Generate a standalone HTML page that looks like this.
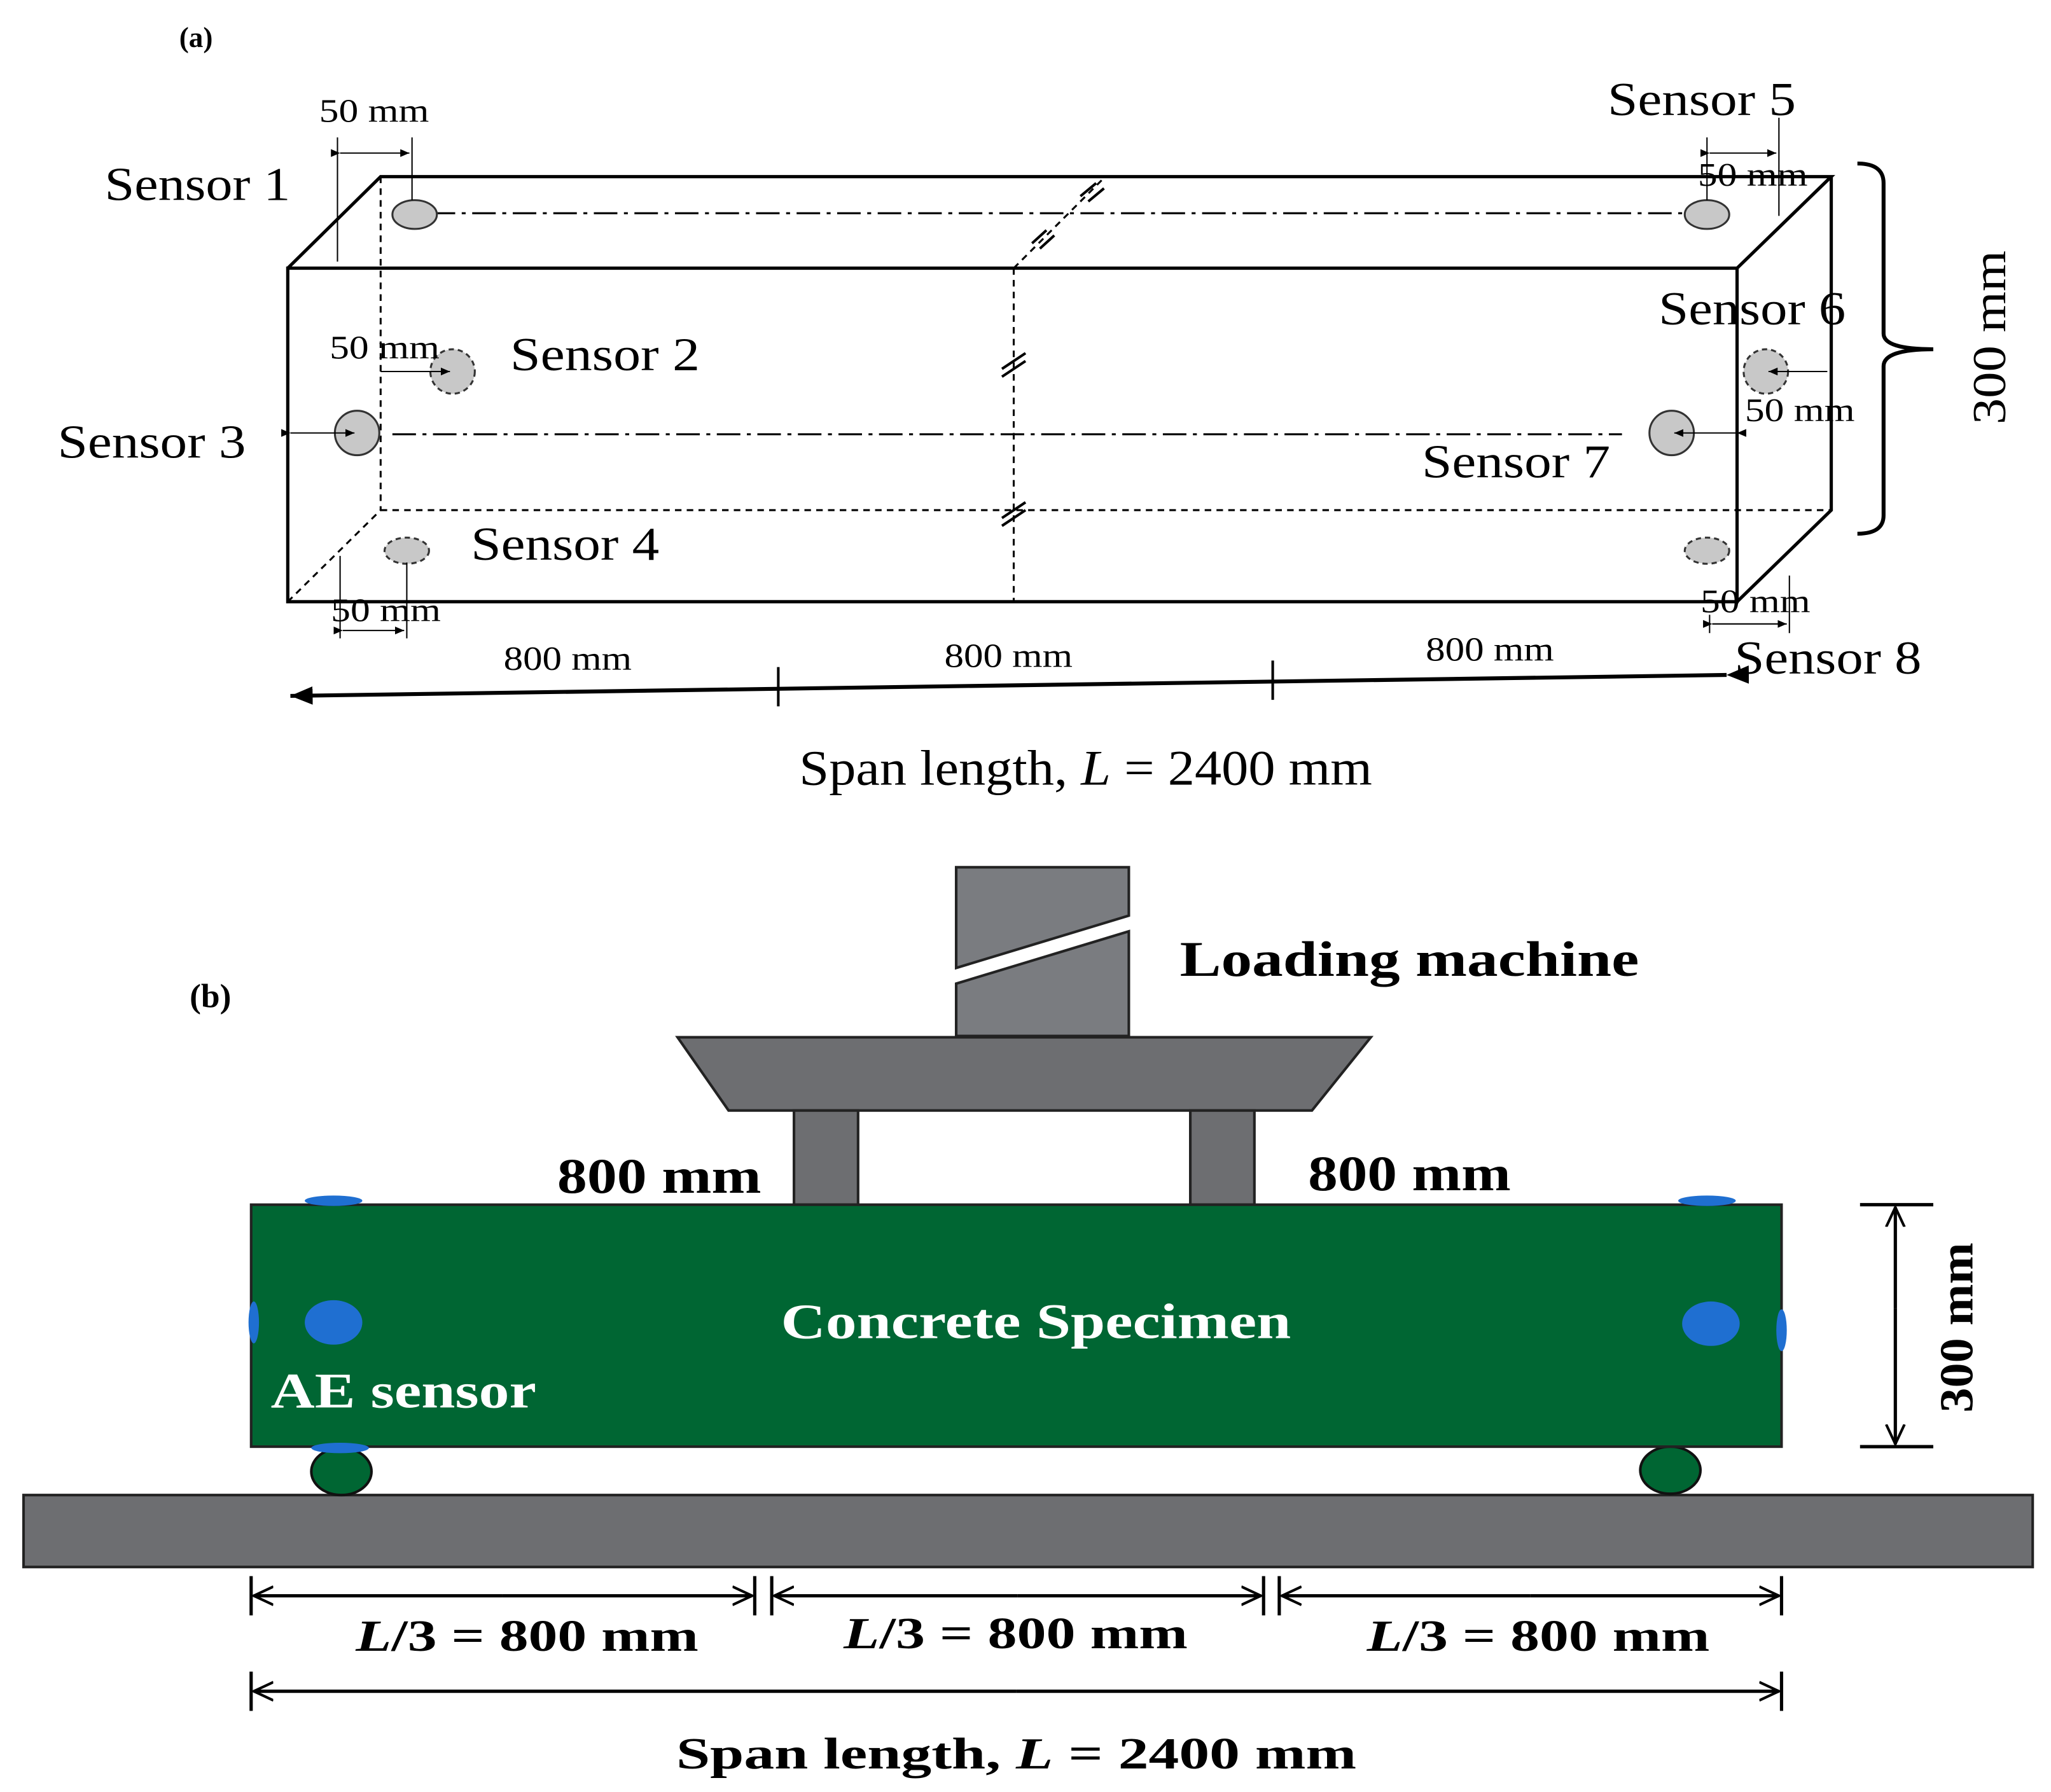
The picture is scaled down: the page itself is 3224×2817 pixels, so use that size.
<!DOCTYPE html>
<html><head><meta charset="utf-8"><style>
html,body{margin:0;padding:0;background:#fff;}
svg{display:block;}
text{font-family:"Liberation Serif",serif;}
</style></head><body>
<svg width="3224" height="2817" viewBox="0 0 1568 1370" xmlns="http://www.w3.org/2000/svg">
<defs>
<marker id="ahs" markerWidth="7" markerHeight="6" refX="7" refY="3" orient="auto" markerUnits="userSpaceOnUse"><path d="M0,0 L7,3 L0,6 Z" fill="#000"/></marker>
<marker id="ahb" markerWidth="18" markerHeight="14" refX="17" refY="7" orient="auto" markerUnits="userSpaceOnUse"><path d="M0,0 L17,7 L0,14 Z" fill="#000"/></marker>
<marker id="ao" markerWidth="16" markerHeight="16" refX="15" refY="8" orient="auto" markerUnits="userSpaceOnUse"><path d="M0,1 L15,8 L0,15" fill="none" stroke="#000" stroke-width="2"/></marker>
</defs>
<!-- Panel a -->
<text x="137" y="36" font-size="22" font-weight="bold">(a)</text>
<g stroke="#000" stroke-width="2.5" fill="none">
<rect x="220" y="205" width="1108" height="255"/>
<polyline points="220,205 291,135 1400,135 1328,205"/>
<polyline points="1400,135 1400,390 1328,460"/>
</g>
<g stroke="#000" stroke-width="1.5" fill="none" stroke-dasharray="5,4">
<line x1="291" y1="135" x2="291" y2="390"/>
<line x1="291" y1="390" x2="1400" y2="390"/>
<line x1="220" y1="460" x2="291" y2="390"/>
<line x1="775" y1="205" x2="775" y2="460"/>
<line x1="775" y1="205" x2="845" y2="135"/>
</g>
<g stroke="#000" stroke-width="1.5" fill="none" stroke-dasharray="18,5,3,5">
<line x1="330" y1="163" x2="1290" y2="163"/>
<line x1="300" y1="332" x2="1240" y2="332"/>
</g>
<g stroke="#000" stroke-width="2">
<line x1="766" y1="282" x2="784" y2="270"/><line x1="766" y1="288" x2="784" y2="276"/>
<line x1="766" y1="396" x2="784" y2="384"/><line x1="766" y1="402" x2="784" y2="390"/>
<line x1="789" y1="186" x2="800" y2="176"/><line x1="795" y1="190" x2="806" y2="180"/>
<line x1="826" y1="150" x2="838" y2="140"/><line x1="832" y1="154" x2="844" y2="144"/>
</g>
<g fill="#c8c8c8" stroke="#333" stroke-width="1.5">
<ellipse cx="317" cy="164" rx="17" ry="11"/>
<ellipse cx="1305" cy="164" rx="17" ry="11"/>
<circle cx="273" cy="331" r="17"/>
<circle cx="1278" cy="331" r="17"/>
</g>
<g fill="#c8c8c8" stroke="#333" stroke-width="1.5" stroke-dasharray="4,3">
<circle cx="346" cy="284" r="17"/>
<circle cx="1350" cy="284" r="17"/>
<ellipse cx="311" cy="421" rx="17" ry="10"/>
<ellipse cx="1305" cy="421" rx="17" ry="10"/>
</g>
<g stroke="#000" stroke-width="1">
<line x1="258" y1="105" x2="258" y2="200"/><line x1="315" y1="105" x2="315" y2="153"/>
<line x1="260" y1="117" x2="313" y2="117" marker-end="url(#ahs)" marker-start="url(#ahs)"/>
<line x1="1305" y1="105" x2="1305" y2="153"/><line x1="1360" y1="90" x2="1360" y2="165"/>
<line x1="1307" y1="117" x2="1358" y2="117" marker-end="url(#ahs)" marker-start="url(#ahs)"/>
<line x1="291" y1="284" x2="344" y2="284" marker-end="url(#ahs)"/>
<line x1="222" y1="331" x2="271" y2="331" marker-end="url(#ahs)" marker-start="url(#ahs)"/>
<line x1="1397" y1="284" x2="1352" y2="284" marker-end="url(#ahs)"/>
<line x1="1328" y1="331" x2="1280" y2="331" marker-end="url(#ahs)" marker-start="url(#ahs)"/>
<line x1="260" y1="425" x2="260" y2="488"/><line x1="311" y1="430" x2="311" y2="488"/>
<line x1="262" y1="482" x2="309" y2="482" marker-end="url(#ahs)" marker-start="url(#ahs)"/>
<line x1="1307" y1="470" x2="1307" y2="484"/><line x1="1368" y1="440" x2="1368" y2="484"/>
<line x1="1309" y1="477" x2="1366" y2="477" marker-end="url(#ahs)" marker-start="url(#ahs)"/>
</g>
<g font-size="25" lengthAdjust="spacingAndGlyphs">
<text x="244" y="93" textLength="84" lengthAdjust="spacingAndGlyphs">50 mm</text>
<text x="1298" y="142" textLength="84" lengthAdjust="spacingAndGlyphs">50 mm</text>
<text x="252" y="274" textLength="84" lengthAdjust="spacingAndGlyphs">50 mm</text>
<text x="1334" y="322" textLength="84" lengthAdjust="spacingAndGlyphs">50 mm</text>
<text x="253" y="475" textLength="84" lengthAdjust="spacingAndGlyphs">50 mm</text>
<text x="1300" y="468" textLength="84" lengthAdjust="spacingAndGlyphs">50 mm</text>
</g>
<g font-size="36">
<text x="80" y="153" textLength="142" lengthAdjust="spacingAndGlyphs">Sensor 1</text>
<text x="1229" y="88" textLength="144" lengthAdjust="spacingAndGlyphs">Sensor 5</text>
<text x="390" y="283" textLength="145" lengthAdjust="spacingAndGlyphs">Sensor 2</text>
<text x="1268" y="248" textLength="143" lengthAdjust="spacingAndGlyphs">Sensor 6</text>
<text x="44" y="350" textLength="144" lengthAdjust="spacingAndGlyphs">Sensor 3</text>
<text x="1087" y="365" textLength="144" lengthAdjust="spacingAndGlyphs">Sensor 7</text>
<text x="360" y="428" textLength="144" lengthAdjust="spacingAndGlyphs">Sensor 4</text>
<text x="1326" y="515" textLength="143" lengthAdjust="spacingAndGlyphs">Sensor 8</text>
</g>
<path d="M1420,125 Q1440,125 1440,140 L1440,255 Q1440,267 1478,267 Q1440,267 1440,280 L1440,394 Q1440,408 1420,408" fill="none" stroke="#000" stroke-width="3"/>
<text transform="translate(1533,258) rotate(-90)" font-size="36" text-anchor="middle" textLength="133" lengthAdjust="spacingAndGlyphs">300 mm</text>
<line x1="1320" y1="516" x2="222" y2="532" stroke="#000" stroke-width="3" marker-end="url(#ahb)" marker-start="url(#ahb)"/>
<line x1="595" y1="510" x2="595" y2="540" stroke="#000" stroke-width="2"/>
<line x1="973" y1="505" x2="973" y2="535" stroke="#000" stroke-width="2"/>
<g font-size="26">
<text x="385" y="512" textLength="98" lengthAdjust="spacingAndGlyphs">800 mm</text>
<text x="722" y="510" textLength="98" lengthAdjust="spacingAndGlyphs">800 mm</text>
<text x="1090" y="505" textLength="98" lengthAdjust="spacingAndGlyphs">800 mm</text>
</g>
<text x="611" y="600" font-size="38" textLength="438" lengthAdjust="spacingAndGlyphs">Span length, <tspan font-style="italic">L</tspan> = 2400 mm</text>
<!-- Panel b -->
<text x="145" y="770" font-size="26" font-weight="bold">(b)</text>
<g fill="#7a7c80" stroke="#222" stroke-width="2">
<polygon points="731,663 863,663 863,700 731,740"/>
<polygon points="731,752 863,712 863,792 731,792"/>
<polygon points="518,793 1048,793 1003,849 557,849" fill="#6d6e71"/>
<rect x="607" y="849" width="49" height="72" fill="#6d6e71"/>
<rect x="910" y="849" width="49" height="72" fill="#6d6e71"/>
</g>
<text x="902" y="746" font-size="38" font-weight="bold" textLength="351" lengthAdjust="spacingAndGlyphs">Loading machine</text>
<text x="426" y="912" font-size="38" font-weight="bold" textLength="156" lengthAdjust="spacingAndGlyphs">800 mm</text>
<text x="1000" y="910" font-size="38" font-weight="bold" textLength="155" lengthAdjust="spacingAndGlyphs">800 mm</text>
<rect x="18" y="1143" width="1536" height="55" fill="#6d6e71" stroke="#222" stroke-width="2"/>
<ellipse cx="261" cy="1125" rx="23" ry="18" fill="#006633" stroke="#111" stroke-width="2"/>
<ellipse cx="1277" cy="1124" rx="23" ry="18" fill="#006633" stroke="#111" stroke-width="2"/>
<rect x="192" y="921" width="1170" height="185" fill="#006633" stroke="#222" stroke-width="2"/>
<g fill="#1f6fd1">
<ellipse cx="255" cy="1011" rx="22" ry="17"/>
<ellipse cx="1308" cy="1012" rx="22" ry="17"/>
<ellipse cx="194" cy="1011" rx="4" ry="16"/>
<ellipse cx="1362" cy="1017" rx="4" ry="16"/>
<ellipse cx="255" cy="918" rx="22" ry="4"/>
<ellipse cx="1305" cy="918" rx="22" ry="4"/>
<ellipse cx="260" cy="1107" rx="22" ry="4"/>
</g>
<text x="597" y="1023" font-size="38" font-weight="bold" fill="#fff" textLength="390" lengthAdjust="spacingAndGlyphs">Concrete Specimen</text>
<text x="207" y="1076" font-size="38" font-weight="bold" fill="#fff" textLength="203" lengthAdjust="spacingAndGlyphs">AE sensor</text>
<g stroke="#000" stroke-width="2.5" fill="none">
<line x1="1422" y1="921" x2="1478" y2="921"/>
<line x1="1422" y1="1106" x2="1478" y2="1106"/>
<line x1="1449" y1="1000" x2="1449" y2="923" marker-end="url(#ao)"/>
<line x1="1449" y1="1000" x2="1449" y2="1104" marker-end="url(#ao)"/>
<line x1="192" y1="1205" x2="192" y2="1235"/>
<line x1="577" y1="1205" x2="577" y2="1235"/>
<line x1="590" y1="1205" x2="590" y2="1235"/>
<line x1="966" y1="1205" x2="966" y2="1235"/>
<line x1="978" y1="1205" x2="978" y2="1235"/>
<line x1="1362" y1="1205" x2="1362" y2="1235"/>
<line x1="384" y1="1220" x2="194" y2="1220" marker-end="url(#ao)"/>
<line x1="384" y1="1220" x2="575" y2="1220" marker-end="url(#ao)"/>
<line x1="778" y1="1220" x2="592" y2="1220" marker-end="url(#ao)"/>
<line x1="778" y1="1220" x2="964" y2="1220" marker-end="url(#ao)"/>
<line x1="1170" y1="1220" x2="980" y2="1220" marker-end="url(#ao)"/>
<line x1="1170" y1="1220" x2="1360" y2="1220" marker-end="url(#ao)"/>
<line x1="192" y1="1278" x2="192" y2="1308"/>
<line x1="1362" y1="1278" x2="1362" y2="1308"/>
<line x1="777" y1="1293" x2="194" y2="1293" marker-end="url(#ao)"/>
<line x1="777" y1="1293" x2="1360" y2="1293" marker-end="url(#ao)"/>
</g>
<g font-size="34" font-weight="bold">
<text x="272" y="1262" textLength="262" lengthAdjust="spacingAndGlyphs"><tspan font-style="italic">L</tspan>/3 = 800 mm</text>
<text x="645" y="1260" textLength="263" lengthAdjust="spacingAndGlyphs"><tspan font-style="italic">L</tspan>/3 = 800 mm</text>
<text x="1045" y="1262" textLength="262" lengthAdjust="spacingAndGlyphs"><tspan font-style="italic">L</tspan>/3 = 800 mm</text>
<text x="517" y="1352" textLength="520" lengthAdjust="spacingAndGlyphs">Span length, <tspan font-style="italic">L</tspan> = 2400 mm</text>
</g>
<text transform="translate(1508,1015) rotate(-90)" font-size="36" font-weight="bold" text-anchor="middle" textLength="130" lengthAdjust="spacingAndGlyphs">300 mm</text>
</svg>
</body></html>
